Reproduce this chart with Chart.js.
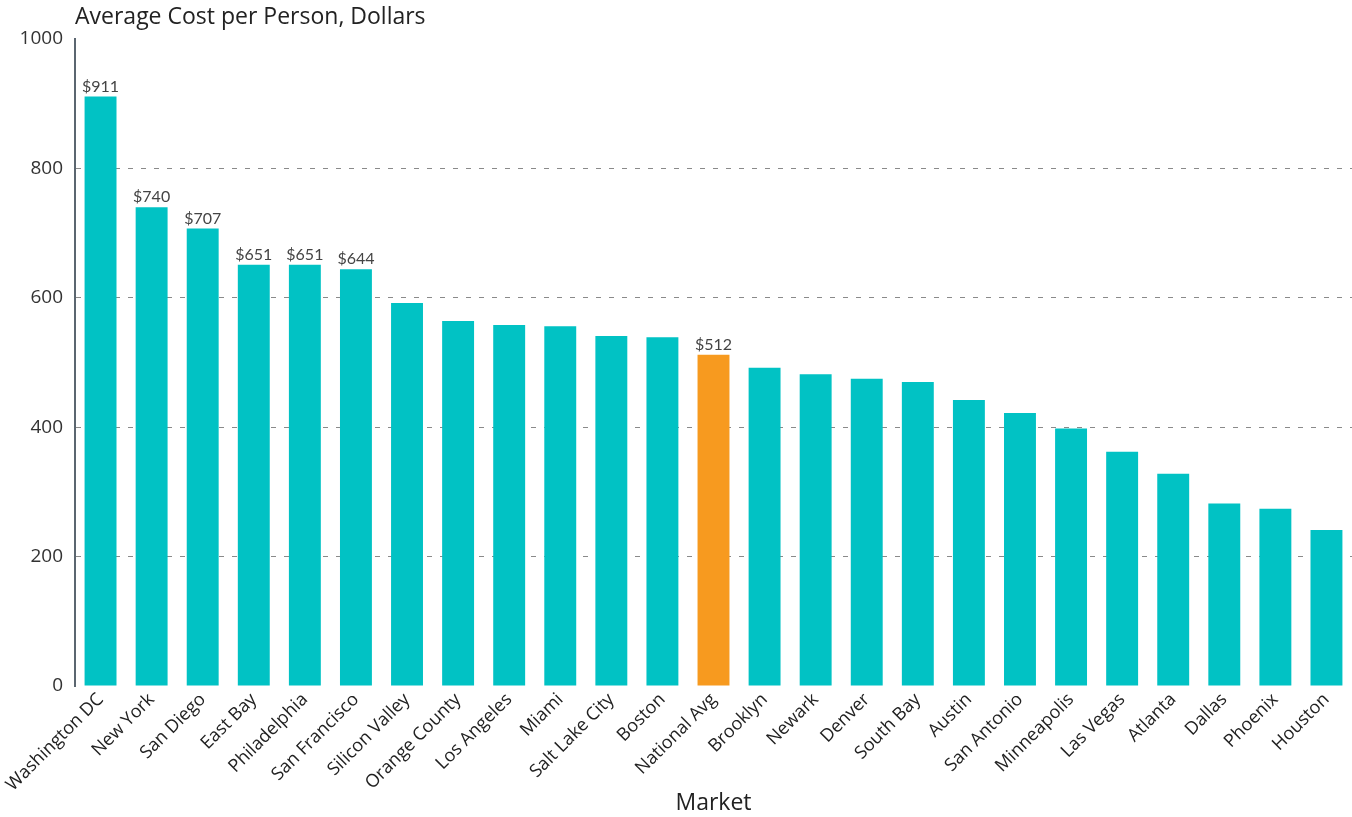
<!DOCTYPE html>
<html>
<head>
<meta charset="utf-8">
<script src="https://cdn.jsdelivr.net/npm/chart.js@4/dist/chart.umd.min.js"></script>
<style>
html,body{margin:0;padding:0;background:#fff;}
#wrap{width:1352px;height:817px;}
</style>
</head>
<body>
<div id="wrap"><canvas id="c" width="1352" height="817"></canvas></div>
<script>
const markets = ["Washington DC","New York","San Diego","East Bay","Philadelphia","San Francisco","Silicon Valley","Orange County","Los Angeles","Miami","Salt Lake City","Boston","National Avg","Brooklyn","Newark","Denver","South Bay","Austin","San Antonio","Minneapolis","Las Vegas","Atlanta","Dallas","Phoenix","Houston"];
const costPerPerson = [911,740,707,651,651,644,592,564,558,556,541,539,512,492,482,475,470,442,422,398,362,328,282,274,241];
const labeledMarkets = ["Washington DC","New York","San Diego","East Bay","Philadelphia","San Francisco","National Avg"];
const highlightMarket = "National Avg";
const yTitle = "Average Cost per Person, Dollars";
const xTitle = "Market";

const TEAL = "#01C2C4";
const ORANGE = "#F79A1F";
const FONT = "'Open Sans', Lato, sans-serif";
const LABEL_FONT = "Lato, 'Open Sans', sans-serif";

const barColors = markets.map(m => m === highlightMarket ? ORANGE : TEAL);

const topTitlePlugin = {
  id: 'topTitle',
  afterDraw(chart) {
    const {ctx, chartArea} = chart;
    ctx.save();
    ctx.font = "23px " + FONT;
    ctx.fillStyle = "#222";
    ctx.textAlign = "left";
    ctx.textBaseline = "middle";
    ctx.fillText(yTitle, chartArea.left, 17);
    ctx.restore();
  }
};

const valueLabelPlugin = {
  id: 'valueLabels',
  afterDatasetsDraw(chart) {
    const {ctx} = chart;
    const meta = chart.getDatasetMeta(0);
    ctx.save();
    ctx.font = "16px " + LABEL_FONT;
    ctx.fillStyle = "#444";
    ctx.textAlign = "center";
    ctx.textBaseline = "bottom";
    meta.data.forEach((bar, i) => {
      if (labeledMarkets.includes(markets[i])) {
        ctx.fillText("$" + costPerPerson[i], bar.x, bar.y - 2);
      }
    });
    ctx.restore();
  }
};

new Chart(document.getElementById('c'), {
  type: 'bar',
  data: {
    labels: markets,
    datasets: [{
      data: costPerPerson,
      backgroundColor: barColors,
      borderWidth: 0,
      barPercentage: 0.625,
      categoryPercentage: 1.0
    }]
  },
  options: {
    responsive: false,
    animation: false,
    layout: { padding: { top: 39, right: 0, left: 0, bottom: 0 } },
    plugins: {
      legend: { display: false },
      tooltip: { enabled: false },
      title: { display: false }
    },
    scales: {
      x: {
        afterFit(scale) { scale.height = 131; },
        grid: { display: false, drawTicks: false },
        border: { display: false },
        ticks: {
          minRotation: 45, maxRotation: 45,
          color: "#222",
          font: { family: FONT, size: 18 },
          padding: 3,
          autoSkip: false
        },
        title: {
          display: true, text: xTitle, color: "#222",
          font: { family: FONT, size: 23 },
          padding: { top: 0, bottom: 0 }
        }
      },
      y: {
        min: 0, max: 1000,
        afterFit(scale) { scale.width = 75; },
        ticks: {
          stepSize: 200,
          color: "#333",
          font: { family: FONT, size: 19 },
          padding: 12,
          callback: v => String(v)
        },
        grid: {
          drawTicks: false,
          color: ctx => (ctx.tick && (ctx.tick.value === 0 || ctx.tick.value === 1000)) ? 'rgba(0,0,0,0)' : '#8a8a8a',
          lineWidth: 1
        },
        border: { display: true, color: "#5b6670", width: 2, dash: [5, 8] }
      }
    }
  },
  plugins: [topTitlePlugin, valueLabelPlugin]
});
</script>
</body>
</html>
